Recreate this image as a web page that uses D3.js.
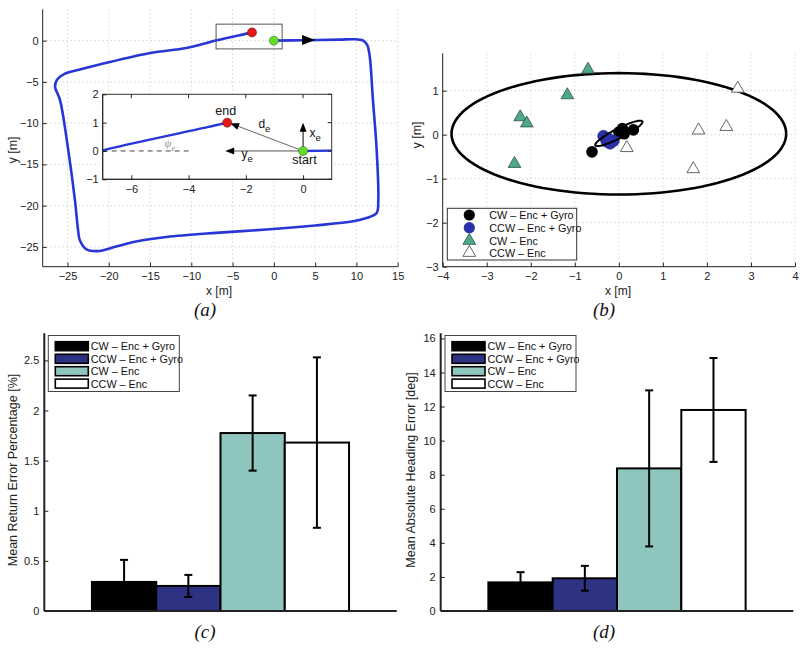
<!DOCTYPE html>
<html><head><meta charset="utf-8">
<script src="https://cdn.jsdelivr.net/npm/d3@7"></script>
<style>
body{margin:0;background:#fff;}
svg{display:block;font-family:"Liberation Sans",Arial,sans-serif;}
.tick text{font-size:11px;fill:#222;}
</style></head><body>
<svg id="c" width="800" height="648"></svg>
<script>
// ---------- data ----------
// (a) trajectory
const pathX = [0,4,8,9.6,10.8,11.3,11.6,12.0,12.45,12.65,12.45,11.2,9.6,5,-0.9,-7,-13,-17,-19.9,-21.1,-22.7,-23.5,-23.7,-24.1,-24.9,-25.9,-26.5,-26.3,-25.3,-23.5,-21.1,-15,-10.6,-6.9,-3.3,-2.65];
const pathY = [0,0.05,0.12,0.17,0.02,-0.5,-1.8,-7.2,-13.2,-19.3,-20.9,-21.5,-21.9,-22.4,-22.9,-23.3,-23.8,-24.4,-25.2,-25.5,-25.3,-24.2,-23.1,-19.3,-13.3,-7.2,-5.6,-4.8,-4.0,-3.5,-2.9,-1.5,-0.9,0.05,0.85,1.0];
const startPt = [0,0], endPt = [-2.65,1.0];
const aXTicks = [-25,-20,-15,-10,-5,0,5,10,15];
const aYTicks = [0,-5,-10,-15,-20,-25];
const insetXTicks = [-6,-4,-2,0];
const insetYTicks = [-1,0,1,2];
// (b) return positions
const cwGyroX = [-0.61,0.33,0.08,0.0,0.12], cwGyroY = [-0.39,0.11,0.14,0.06,0.02];
const ccwGyroX = [-0.35,-0.28,-0.2,-0.12,-0.25], ccwGyroY = [-0.03,-0.15,-0.2,-0.14,-0.08];
const cwEncX = [-0.7,-1.17,-2.24,-2.09,-2.37], cwEncY = [1.48,0.9,0.4,0.26,-0.66];
const ccwEncX = [2.7,1.81,2.44,0.18,1.69], ccwEncY = [1.05,0.1,0.18,-0.3,-0.78];
const bigEllipse = {cx:0, cy:0.02, rx:3.8, ry:1.38, ang:0};
const smallEllipse = {cx:0, cy:0.03, rx:0.6, ry:0.11, ang:27};
const bXTicks = [-4,-3,-2,-1,0,1,2,3,4];
const bYTicks = [-3,-2,-1,0,1];
// (c),(d) bars
const series = ["CW – Enc + Gyro","CCW – Enc + Gyro","CW – Enc","CCW – Enc"];
const barColors = ["#000000","#2e3282","#8fc5bf","#ffffff"];
const returnErr = [0.29,0.25,1.775,1.68];
const returnErrSd = [0.22,0.11,0.375,0.85];
const headingErr = [1.68,1.92,8.37,11.8];
const headingErrSd = [0.6,0.73,4.58,3.05];
const cYTicks = [0,0.5,1,1.5,2,2.5];
const dYTicks = [0,2,4,6,8,10,12,14,16];

const svg = d3.select("#c");
const fmt = d3.format("");
function gridAndAxes(g, x, y, xt, yt, grid){
  const [x0,x1] = x.range(), [y0,y1] = y.range();
  if(grid){
    g.append("g").selectAll("line").data(xt).join("line")
      .attr("x1",d=>x(d)).attr("x2",d=>x(d)).attr("y1",y0).attr("y2",y1)
      .attr("stroke","#c0c0c0").attr("stroke-dasharray","1,3");
    g.append("g").selectAll("line").data(yt).join("line")
      .attr("y1",d=>y(d)).attr("y2",d=>y(d)).attr("x1",x0).attr("x2",x1)
      .attr("stroke","#c0c0c0").attr("stroke-dasharray","1,3");
  }
}
function drawAxes(g, x, y, xt, yt, opts={}){
  const sw = opts.sw||1;
  const xa = g.append("g").attr("transform",`translate(0,${y.range()[0]})`);
  if(xt){
    xa.call(d3.axisBottom(x).tickValues(xt).tickSize(-4).tickPadding(6).tickFormat(fmt));
  } else {
    xa.call(d3.axisBottom(x).tickValues([]).tickSizeOuter(0));
  }
  const ya = g.append("g").attr("transform",`translate(${x.range()[0]},0)`)
    .call(d3.axisLeft(y).tickValues(yt).tickSize(-4).tickPadding(opts.ypad||4).tickFormat(opts.yfmt||fmt));
  [xa,ya].forEach(a=>{
    a.select(".domain").attr("stroke","#222").attr("stroke-width",sw);
    a.selectAll(".tick line").attr("stroke","#222");
    a.selectAll(".tick text").attr("font-family","Liberation Sans, Arial, sans-serif");
  });
  xa.select(".domain").attr("d",`M${x.range()[0]},0H${x.range()[1]}`);
  ya.select(".domain").attr("d",`M0,${y.range()[0]}V${y.range()[1]}`);
}
function label(g,txt,x,y,rot,size){
  g.append("text").attr("x",x).attr("y",y).attr("text-anchor","middle")
   .attr("transform",rot?`rotate(-90,${x},${y})`:null)
   .attr("font-size",size||12).attr("fill","#222").text(txt);
}
function caption(txt,x,y){
  svg.append("text").attr("x",x).attr("y",y).attr("text-anchor","middle")
   .attr("font-family","Liberation Serif, Times New Roman, serif").attr("font-style","italic")
   .attr("font-size",19).attr("fill","#111").text(txt);
}

// ---------- (a) ----------
{
const g = svg.append("g");
const x = d3.scaleLinear([-28,15],[42.7,397.7]);
const y = d3.scaleLinear([-27.4,3.8],[266.7,9.3]);
gridAndAxes(g,x,y,aXTicks,aYTicks,true);
drawAxes(g,x,y,aXTicks,aYTicks);
label(g,"x [m]",219,295);
label(g,"y [m]",17,150,true,12.5);
const pts = pathX.map((d,i)=>[d,pathY[i]]);
const line = d3.line().x(d=>x(d[0])).y(d=>y(d[1])).curve(d3.curveCatmullRom.alpha(0.5));
g.append("path").attr("d",line(pts)).attr("fill","none").attr("stroke","#2637d6").attr("stroke-width",2.6);
const tx = x(5), ty = y(0.07);
g.append("path").attr("d",`M${tx},${ty}l-13,-5l0,10z`).attr("fill","#000");
g.append("rect").attr("x",x(-7)).attr("y",y(2)).attr("width",x(1)-x(-7)).attr("height",y(-1)-y(2))
 .attr("fill","none").attr("stroke","#555").attr("stroke-width",1);
g.append("circle").attr("cx",x(endPt[0])).attr("cy",y(endPt[1])).attr("r",4.5).attr("fill","#e81818").attr("stroke","#600").attr("stroke-width",0.6);
g.append("circle").attr("cx",x(startPt[0])).attr("cy",y(startPt[1])).attr("r",4.5).attr("fill","#66dd22").attr("stroke","#363").attr("stroke-width",0.6);

// inset
const xi = d3.scaleLinear([-7,1],[102.7,331.7]);
const yi = d3.scaleLinear([-1,2],[179.3,94.3]);
const ig = svg.append("g");
ig.append("rect").attr("x",102.7).attr("y",94.3).attr("width",229).attr("height",85).attr("fill","#fff");
ig.append("clipPath").attr("id","ic").append("rect").attr("x",102.7).attr("y",94.3).attr("width",229).attr("height",85);
ig.append("line").attr("x1",xi(-7)).attr("x2",xi(-4)).attr("y1",yi(0)).attr("y2",yi(0))
  .attr("stroke","#444").attr("stroke-dasharray","5,4").attr("stroke-width",1);
const linei = d3.line().x(d=>xi(d[0])).y(d=>yi(d[1])).curve(d3.curveCatmullRom.alpha(0.5));
ig.append("path").attr("d",linei(pts)).attr("clip-path","url(#ic)").attr("fill","none").attr("stroke","#2637d6").attr("stroke-width",2.4);
function arrow(x1,y1,x2,y2,col,w){
  const ang = Math.atan2(y2-y1,x2-x1);
  ig.append("line").attr("x1",x1).attr("y1",y1).attr("x2",x2-Math.cos(ang)*6).attr("y2",y2-Math.sin(ang)*6)
    .attr("stroke",col).attr("stroke-width",w);
  const L=9, W=3.5;
  const bx = x2-Math.cos(ang)*L, by = y2-Math.sin(ang)*L;
  const px = -Math.sin(ang)*W, py = Math.cos(ang)*W;
  ig.append("path").attr("d",`M${x2},${y2}L${bx+px},${by+py}L${bx-px},${by-py}Z`).attr("fill","#000");
}
arrow(xi(0),yi(0),xi(-2.55),yi(0.98),"#666",1);
arrow(xi(0),yi(0),xi(0),yi(1.0),"#000",1);
arrow(xi(0),yi(0),xi(-2.72),yi(0),"#555",1);
ig.append("circle").attr("cx",xi(endPt[0])).attr("cy",yi(endPt[1])).attr("r",4.5).attr("fill","#e81818").attr("stroke","#600").attr("stroke-width",0.6);
ig.append("circle").attr("cx",xi(startPt[0])).attr("cy",yi(startPt[1])).attr("r",4.5).attr("fill","#66dd22").attr("stroke","#363").attr("stroke-width",0.6);
ig.append("rect").attr("x",102.7).attr("y",94.3).attr("width",229).attr("height",85).attr("fill","none").attr("stroke","#333").attr("stroke-width",1);
const ia = ig.append("g");
drawAxes(ia,xi,yi,insetXTicks,insetYTicks);
ig.selectAll(".tt").data(insetXTicks).join("line").attr("x1",d=>xi(d)).attr("x2",d=>xi(d)).attr("y1",94.3).attr("y2",98.3).attr("stroke","#222");
ig.selectAll(".tr").data(insetYTicks).join("line").attr("y1",d=>yi(d)).attr("y2",d=>yi(d)).attr("x1",331.7).attr("x2",327.7).attr("stroke","#222");
function t(txt,sub,xx,yy,col,size,italic){
  const e = ig.append("text").attr("x",xx).attr("y",yy).attr("text-anchor","middle").attr("font-size",size||12).attr("fill",col||"#111");
  if(italic) e.attr("font-style","italic").attr("font-family","Liberation Serif, serif");
  e.append("tspan").text(txt);
  if(sub) e.append("tspan").attr("dy",4).attr("font-size",(size||12)*0.8).text(sub);
}
t("end",null,xi(-2.7),yi(1.28),"#111",12.5);
t("d","e",xi(-1.35),yi(0.8),"#111",12);
t("x","e",xi(0.42),yi(0.5),"#111",12);
t("y","e",xi(-1.95),yi(-0.25),"#111",12);
t("start",null,xi(0.05),yi(-0.45),"#111",12.5);
t("ψ","e",xi(-4.65),yi(0.14),"#888",11,true);
}

// ---------- (b) ----------
{
const g = svg.append("g");
const x = d3.scaleLinear([-4,4],[442.7,795]);
const y = d3.scaleLinear([-3,1.85],[266.7,53.3]);
gridAndAxes(g,x,y,bXTicks,bYTicks,true);
drawAxes(g,x,y,bXTicks,bYTicks);
label(g,"x [m]",618,295);
label(g,"y [m]",421,135,true,12.5);
function ellipse(e,w){
  const a = e.ang*Math.PI/180;
  const ps = d3.range(0,361,3).map(k=>{const th=k*Math.PI/180;
    const ex=e.rx*Math.cos(th), ey=e.ry*Math.sin(th);
    return [e.cx+ex*Math.cos(a)-ey*Math.sin(a), e.cy+ex*Math.sin(a)+ey*Math.cos(a)];});
  g.append("path").attr("d",d3.line().x(d=>x(d[0])).y(d=>y(d[1]))(ps)).attr("fill","none").attr("stroke","#000").attr("stroke-width",w);
}
ellipse(bigEllipse,2.6);
const tri = d3.symbol().type(d3.symbolTriangle).size(70);
g.selectAll(".cwe").data(cwEncX).join("path").attr("d",tri)
  .attr("transform",(d,i)=>`translate(${x(d)},${y(cwEncY[i])})`).attr("fill","#4ea88c").attr("stroke","#1f3f33").attr("stroke-width",0.7);
g.selectAll(".cce").data(ccwEncX).join("path").attr("d",tri)
  .attr("transform",(d,i)=>`translate(${x(d)},${y(ccwEncY[i])})`).attr("fill","#fff").attr("stroke","#555").attr("stroke-width",0.9);
g.selectAll(".cwg").data(cwGyroX).join("circle").attr("cx",d=>x(d)).attr("cy",(d,i)=>y(cwGyroY[i])).attr("r",5.8).attr("fill","#000");
g.selectAll(".ccg").data(ccwGyroX).join("circle").attr("cx",d=>x(d)).attr("cy",(d,i)=>y(ccwGyroY[i])).attr("r",5.8).attr("fill","#2b31a8").attr("stroke","#1c2070").attr("stroke-width",0.5);
ellipse(smallEllipse,2);
const lg = g.append("g");
lg.append("rect").attr("x",447.3).attr("y",208.3).attr("width",129.4).attr("height",51.7).attr("fill","#fff").attr("stroke","#333").attr("stroke-width",1);
const rows=[215,227.7,240.7,252.7];
series.forEach((s,i)=>{
  const cx=469.3, cy=rows[i];
  if(i===0) lg.append("circle").attr("cx",cx).attr("cy",cy).attr("r",5.6).attr("fill","#000");
  if(i===1) lg.append("circle").attr("cx",cx).attr("cy",cy).attr("r",5.6).attr("fill","#2b31a8");
  if(i===2) lg.append("path").attr("d",tri).attr("transform",`translate(${cx},${cy})`).attr("fill","#4ea88c").attr("stroke","#1f3f33").attr("stroke-width",0.7);
  if(i===3) lg.append("path").attr("d",tri).attr("transform",`translate(${cx},${cy})`).attr("fill","#fff").attr("stroke","#555").attr("stroke-width",0.9);
  lg.append("text").attr("x",489.3).attr("y",cy+4).attr("font-size",10.8).attr("fill","#111").text(s);
});
}

// ---------- (c),(d) bars ----------
function barPanel(x0,x1,ymax,vals,sds,yt,ylab,labx,legx){
  const g = svg.append("g");
  const x = d3.scaleLinear([0,1],[x0,x1]);
  const y = d3.scaleLinear([0,ymax],[611,333.3]);
  const w = 0.1824;
  const cx = i=>0.5+(i-1.5)*w;
  g.selectAll(".bar").data(vals).join("rect")
    .attr("x",(d,i)=>x(cx(i)-w/2)).attr("width",x(w)-x(0)).attr("y",d=>y(d)).attr("height",d=>y(0)-y(d))
    .attr("fill",(d,i)=>barColors[i]).attr("stroke","#000").attr("stroke-width",2);
  vals.forEach((v,i)=>{
    const xc=x(cx(i)), lo=y(v-sds[i]), hi=y(v+sds[i]);
    g.append("line").attr("x1",xc).attr("x2",xc).attr("y1",lo).attr("y2",hi).attr("stroke","#000").attr("stroke-width",2);
    [lo,hi].forEach(yy=>g.append("line").attr("x1",xc-4).attr("x2",xc+4).attr("y1",yy).attr("y2",yy).attr("stroke","#000").attr("stroke-width",2));
  });
  drawAxes(g,x,y,null,yt,{sw:2,ypad:5});
  label(g,ylab,labx,470,true,12.5);
  const lg = g.append("g");
  lg.append("rect").attr("x",legx).attr("y",335.5).attr("width",131).attr("height",56).attr("fill","#fff").attr("stroke","#444").attr("stroke-width",1);
  const rows=[346.2,358.8,371.2,383.6];
  series.forEach((s,i)=>{
    lg.append("rect").attr("x",legx+7).attr("y",rows[i]-4.5).attr("width",33).attr("height",9)
      .attr("fill",barColors[i]).attr("stroke","#000").attr("stroke-width",1.6);
    lg.append("text").attr("x",legx+42.5).attr("y",rows[i]+4).attr("font-size",10.8).attr("fill","#111").text(s);
  });
}
barPanel(44.3,396.7,2.77,returnErr,returnErrSd,cYTicks,"Mean Return Error Percentage [%]",17,48.3);
barPanel(440.7,793.3,16.3,headingErr,headingErrSd,dYTicks,"Mean Absolute Heading Error [deg]",415,445);

caption("(a)",205,316);
caption("(b)",604,316);
caption("(c)",205,638);
caption("(d)",604,638);
</script>
</body></html>
